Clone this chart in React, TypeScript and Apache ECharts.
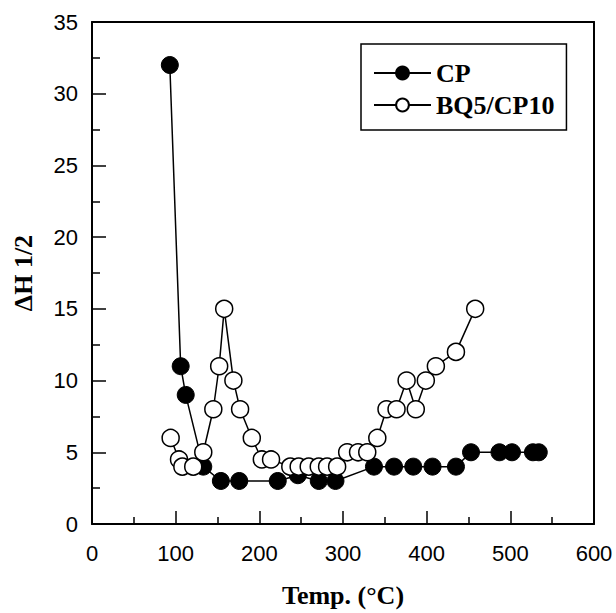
import React, { useEffect, useRef } from "react";
import * as echarts from "echarts";

const seriesNames = ["CP", "BQ5/CP10"];
const cpTemp = [93, 106, 112, 133, 154, 176, 222, 246, 271, 291, 337, 361, 384, 407, 435, 453, 487, 502, 527, 534];
const cpValue = [32, 11, 9, 4, 3, 3, 3, 3.4, 3, 3, 4, 4, 4, 4, 4, 5, 5, 5, 5, 5];
const bqTemp = [94, 104, 108, 121, 133, 145, 152, 158, 169, 177, 191, 203, 214, 237, 247, 259, 271, 281, 293, 305, 318, 329, 341, 352, 364, 376, 387, 399, 411, 435, 458];
const bqValue = [6, 4.5, 4, 4, 5, 8, 11, 15, 10, 8, 6, 4.5, 4.5, 4, 4, 4, 4, 4, 4, 5, 5, 5, 6, 8, 8, 10, 8, 10, 11, 12, 15];
const xTitle = "Temp. (°C)";
const yTitle = "ΔH 1/2";

const pairs = (xs: number[], ys: number[]) => xs.map((x, i) => [x, ys[i]]);

export default function App() {
  const ref = useRef<HTMLDivElement>(null);
  useEffect(() => {
    if (!ref.current) return;
    const chart = echarts.init(ref.current, undefined, { renderer: "svg" });
    const tickFont = { fontFamily: "Liberation Sans, Arial, sans-serif", fontSize: 22, color: "#000" };
    const titleFont = { fontFamily: "Liberation Serif, Times New Roman, serif", fontSize: 26, fontWeight: "bold" as const, color: "#000" };
    chart.setOption({
      animation: false,
      backgroundColor: "#fff",
      grid: { left: 92, right: 22, top: 22, bottom: 86, containLabel: false },
      legend: {
        orient: "vertical",
        left: 361,
        top: 44,
        data: seriesNames,
        itemWidth: 57,
        itemHeight: 16,
        itemGap: 6,
        padding: [16, 12, 12, 12],
        borderColor: "#000",
        borderWidth: 1.5,
        textStyle: { fontFamily: "Liberation Serif, Times New Roman, serif", fontSize: 26, fontWeight: "bold", color: "#000" },
      },
      xAxis: [
        {
          type: "value",
          min: 0,
          max: 600,
          interval: 100,
          name: xTitle,
          nameLocation: "middle",
          nameGap: 58,
          nameTextStyle: titleFont,
          axisLine: { show: true, lineStyle: { color: "#000", width: 2 } },
          axisTick: { show: true, inside: true, length: 13, lineStyle: { color: "#000", width: 1.5 } },
          minorTick: { show: true, splitNumber: 2, length: 7, lineStyle: { color: "#000", width: 1.5 } },
          axisLabel: { ...tickFont, margin: 18 },
          splitLine: { show: false },
        },
        {
          type: "value",
          position: "top",
          min: 0,
          max: 600,
          interval: 100,
          axisLine: { show: true, onZero: false, lineStyle: { color: "#000", width: 2 } },
          axisTick: { show: false },
          axisLabel: { show: false },
          splitLine: { show: false },
        },
      ],
      yAxis: [
        {
          type: "value",
          min: 0,
          max: 35,
          interval: 5,
          name: yTitle,
          nameLocation: "middle",
          nameRotate: 90,
          nameGap: 56,
          nameTextStyle: titleFont,
          axisLine: { show: true, lineStyle: { color: "#000", width: 2 } },
          axisTick: { show: true, inside: true, length: 14, lineStyle: { color: "#000", width: 1.5 } },
          minorTick: { show: true, splitNumber: 2, length: 8, lineStyle: { color: "#000", width: 1.5 } },
          axisLabel: { ...tickFont, margin: 14 },
          splitLine: { show: false },
        },
        {
          type: "value",
          position: "right",
          min: 0,
          max: 35,
          interval: 5,
          axisLine: { show: true, onZero: false, lineStyle: { color: "#000", width: 2 } },
          axisTick: { show: false },
          axisLabel: { show: false },
          splitLine: { show: false },
        },
      ],
      series: [
        {
          name: seriesNames[0],
          type: "line",
          data: pairs(cpTemp, cpValue),
          symbol: "circle",
          symbolSize: 17,
          lineStyle: { color: "#000", width: 1.5 },
          itemStyle: { color: "#000", borderColor: "#000", borderWidth: 1 },
          z: 2,
        },
        {
          name: seriesNames[1],
          type: "line",
          data: pairs(bqTemp, bqValue),
          symbol: "circle",
          symbolSize: 17,
          lineStyle: { color: "#000", width: 1.5 },
          itemStyle: { color: "#fff", borderColor: "#000", borderWidth: 1.5 },
          z: 3,
        },
      ],
    });
    return () => chart.dispose();
  }, []);
  return <div ref={ref} style={{ width: 616, height: 613, position: "absolute", left: 0, top: 0 }} />;
}
